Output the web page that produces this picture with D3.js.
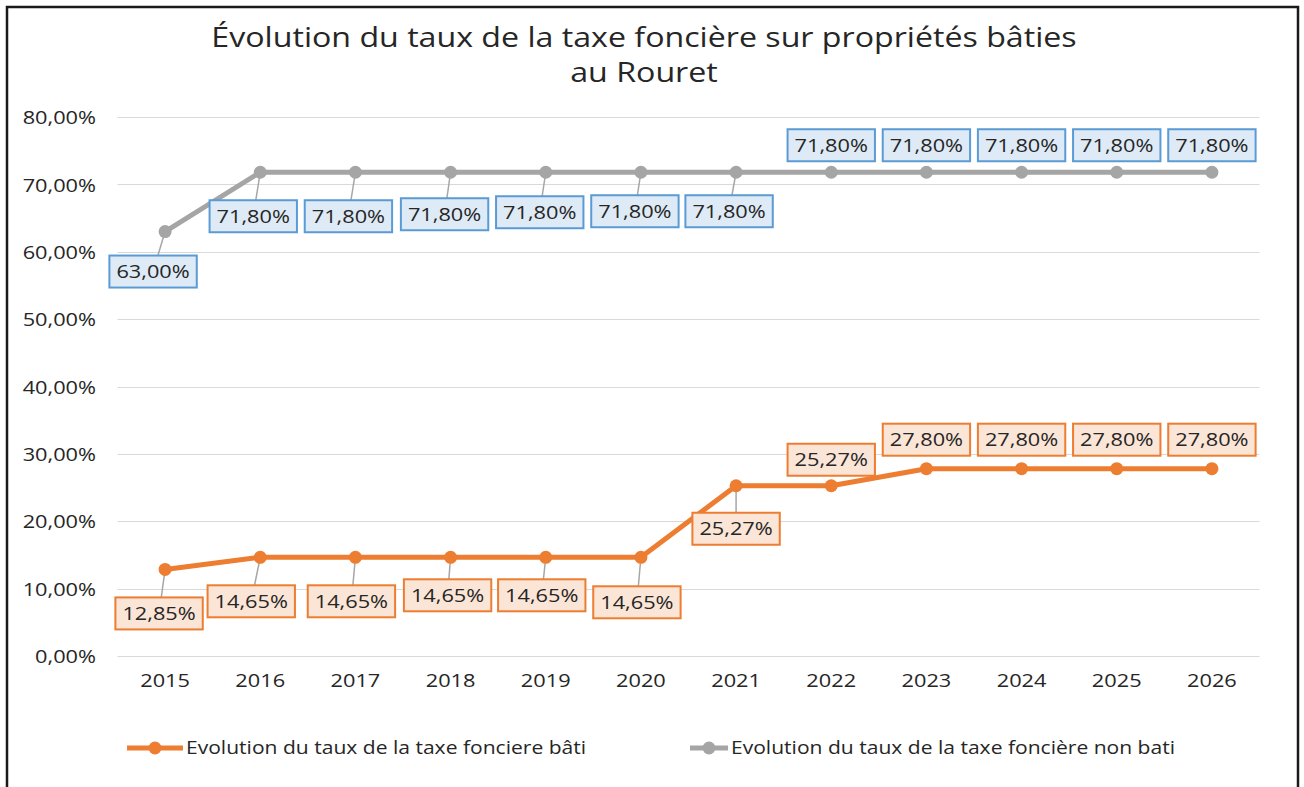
<!DOCTYPE html>
<html><head><meta charset="utf-8">
<script src="https://cdn.jsdelivr.net/npm/d3@7"></script>
<style>
html,body{margin:0;padding:0;background:#fff;}
svg{display:block;}
</style></head>
<body>
<svg id="chart" width="1304" height="787"></svg>
<script>
// ---- data ----
const years = ["2015","2016","2017","2018","2019","2020","2021","2022","2023","2024","2025","2026"];
const batiValues = [12.85,14.65,14.65,14.65,14.65,14.65,25.27,25.27,27.80,27.80,27.80,27.80];
const nonBatiValues = [63.00,71.80,71.80,71.80,71.80,71.80,71.80,71.80,71.80,71.80,71.80,71.80];
const yTicks = [0,10,20,30,40,50,60,70,80];
const titleLines = ["Évolution du taux de la taxe foncière sur propriétés bâties","au Rouret"];
const seriesNames = ["Evolution du taux de la taxe fonciere bâti","Evolution du taux de la taxe foncière non bati"];

// ---- layout (label offsets in px from point) ----
const batiLabelOffsets = [[-6,44],[-9,44],[-4,44],[-3,38],[-4,38],[-4,45],[0,43],[0,-26],[0,-29],[0,-29],[0,-29],[0,-29]];
const nonBatiLabelOffsets = [[-12,40],[-7,44],[-7,44],[-6,42],[-6,40],[-6,39],[-7,39],[0,-27],[0,-27],[0,-27],[0,-27],[0,-27]];

const SX = 1.17; // horizontal stretch of the text face
const FONT = "Open Sans";
const svg = d3.select("#chart");
const plot = {left:117.5, right:1259.5, top:117, bottom:656};

svg.append("rect").attr("x",7).attr("y",7).attr("width",1291).attr("height",800)
  .attr("fill","#fff").attr("stroke","#1a1a1a").attr("stroke-width",2.5);

const x = d3.scaleBand().domain(years).range([plot.left, plot.right]);
const y = d3.scaleLinear().domain([0,80]).range([plot.bottom, plot.top]);
const fmt = v => d3.format(".2f")(v).replace(".", ",") + "%";
const cx = d => x(d) + x.bandwidth()/2;

// title
svg.append("g").attr("transform","translate(644,0) scale(1.17,1)")
  .append("text").attr("text-anchor","middle")
  .style("font-family",FONT).style("font-size","27.5px").attr("fill","#262626")
  .selectAll("tspan").data(titleLines).join("tspan")
  .attr("x",0).attr("y",(d,i)=> i===0?47:82).text(d=>d);

// grid
svg.append("g").selectAll("line").data(yTicks).join("line")
  .attr("x1",plot.left).attr("x2",plot.right)
  .attr("y1",d=>Math.round(y(d))+0.5).attr("y2",d=>Math.round(y(d))+0.5)
  .attr("stroke","#d9d9d9").attr("stroke-width",1);

// y axis labels
const yAxis = d3.axisLeft(y).tickValues(yTicks).tickSize(0).tickPadding(0).tickFormat(d=>fmt(d));
const gy = svg.append("g").attr("transform",`translate(96,0)`).call(yAxis);
gy.select(".domain").remove();
gy.selectAll("text").attr("x",0).style("font-family",FONT).style("font-size","18.6px").attr("fill","#262626")
  .attr("dy","0.36em").attr("transform",`scale(${SX},1)`);

// x axis labels
const xAxis = d3.axisBottom(x).tickSize(0).tickPadding(0);
const gx = svg.append("g").attr("transform",`translate(0,674)`).call(xAxis);
gx.select(".domain").remove();
gx.selectAll("text").attr("y",0).style("font-family",FONT).style("font-size","18.6px").attr("fill","#262626")
  .attr("dy","0.71em").attr("transform",`scale(${SX},1)`);

const series = [
  {values:nonBatiValues, color:"#a5a5a5", offsets:nonBatiLabelOffsets, fill:"#deebf7", stroke:"#5b9bd5"},
  {values:batiValues, color:"#ed7d31", offsets:batiLabelOffsets, fill:"#fbe5d6", stroke:"#ed7d31"}
];

const line = d3.line().x((d,i)=>cx(years[i])).y(d=>y(d));

series.forEach(s=>{
  const g = svg.append("g");
  const pts = s.values.map((v,i)=>({x:cx(years[i]), y:y(v), v, lx:cx(years[i])+s.offsets[i][0], ly:y(v)+s.offsets[i][1]}));
  g.selectAll("line.leader").data(pts.filter(p=>Math.abs(p.ly-p.y)>35)).join("line")
    .attr("x1",p=>p.x).attr("y1",p=>p.y).attr("x2",p=>p.lx).attr("y2",p=>p.ly)
    .attr("stroke","#a6a6a6").attr("stroke-width",1.5);
  g.append("path").datum(s.values).attr("d",line).attr("fill","none")
    .attr("stroke",s.color).attr("stroke-width",5).attr("stroke-linejoin","round");
  g.selectAll("circle").data(pts).join("circle")
    .attr("cx",p=>p.x).attr("cy",p=>p.y).attr("r",6.5).attr("fill",s.color);
  s.pts = pts;
});

// labels on top
series.forEach(s=>{
  const lg = svg.append("g").selectAll("g").data(s.pts).join("g")
    .attr("transform",p=>`translate(${p.lx},${p.ly})`);
  const rects = lg.append("rect");
  const texts = lg.append("text").attr("text-anchor","middle").attr("dy","0.36em")
    .style("font-family",FONT).style("font-size","18.6px").attr("fill","#262626")
    .attr("transform",`scale(${SX},1)`)
    .text(p=>fmt(p.v));
  texts.each(function(){
    const w = this.getComputedTextLength()*SX;
    d3.select(this.previousSibling)
      .attr("x",-w/2-7).attr("y",-16).attr("width",w+14).attr("height",32)
      .attr("fill",s.fill).attr("stroke",s.stroke).attr("stroke-width",2);
  });
});

// legend
const legend = [
  {name:seriesNames[0], color:"#ed7d31", x1:127, x2:183, tx:186},
  {name:seriesNames[1], color:"#a5a5a5", x1:690, x2:728, tx:731}
];
const lgd = svg.append("g").selectAll("g").data(legend).join("g");
lgd.append("line").attr("x1",d=>d.x1).attr("x2",d=>d.x2).attr("y1",748).attr("y2",748)
  .attr("stroke",d=>d.color).attr("stroke-width",5);
lgd.append("circle").attr("cx",d=>(d.x1+d.x2)/2).attr("cy",748).attr("r",6.5).attr("fill",d=>d.color);
lgd.append("g").attr("transform",d=>`translate(${d.tx},748) scale(${SX},1)`)
  .append("text").attr("x",0).attr("y",0).attr("dy","0.35em")
  .style("font-family",FONT).style("font-size","18px").attr("fill","#262626").text(d=>d.name);
</script>
</body></html>
